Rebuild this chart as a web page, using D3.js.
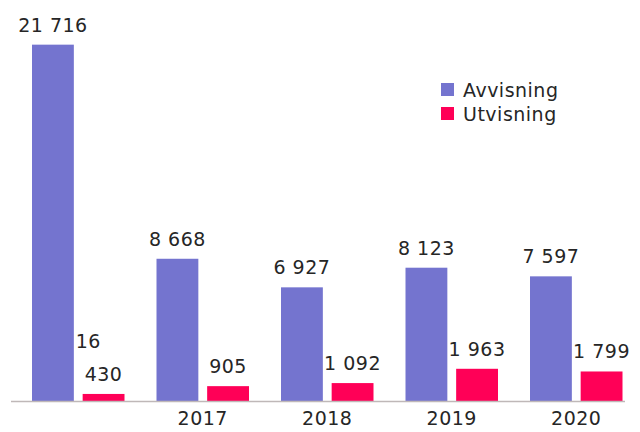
<!DOCTYPE html>
<html>
<head>
<meta charset="utf-8">
<script src="https://cdn.jsdelivr.net/npm/d3@7"></script>
<style>
  body { margin: 0; background: #fff; }
  text { font-family: "DejaVu Sans", Verdana, sans-serif; fill: #262626; letter-spacing: 0.5px; }
</style>
</head>
<body>
<svg id="chart" width="640" height="432"></svg>
<script>
// data
var aar = ["2016", "2017", "2018", "2019", "2020"];
var tickLabels = ["", "2017", "2018", "2019", "2020"];
var avvisning = [21716, 8668, 6927, 8123, 7597];
var utvisning = [430, 905, 1092, 1963, 1799];
var serier = ["Avvisning", "Utvisning"];
var farger = ["#7474cf", "#ff0057"];

var svg = d3.select("#chart");
var fontSize = 19;

var x = d3.scaleBand()
    .domain(aar)
    .range([16, 638.5])
    .paddingInner(0.257)
    .paddingOuter(0.1285);

var xs = d3.scaleBand()
    .domain(serier)
    .range([0, x.bandwidth()])
    .paddingInner(0.174);

var y = d3.scaleLinear()
    .domain([0, 22000])
    .range([401, 40]);

var farge = d3.scaleOrdinal().domain(serier).range(farger);

function fmt(v) {
    return d3.format(",")(v).replace(/,/g, " ");
}

var rader = aar.map(function (a, i) {
    return { aar: a, verdier: [
        { serie: "Avvisning", v: avvisning[i] },
        { serie: "Utvisning", v: utvisning[i] }
    ] };
});

var grupper = svg.selectAll("g.gruppe")
    .data(rader)
    .enter()
    .append("g")
    .attr("class", "gruppe")
    .attr("transform", function (d) { return "translate(" + x(d.aar) + ",0)"; });

grupper.selectAll("rect")
    .data(function (d) { return d.verdier; })
    .enter()
    .append("rect")
    .attr("x", function (d) { return xs(d.serie); })
    .attr("y", function (d) { return y(d.v); })
    .attr("width", xs.bandwidth())
    .attr("height", function (d) { return y(0) - y(d.v); })
    .attr("fill", function (d) { return farge(d.serie); });

grupper.selectAll("text.verdi")
    .data(function (d) { return d.verdier; })
    .enter()
    .append("text")
    .attr("class", "verdi")
    .attr("x", function (d) { return xs(d.serie) + xs.bandwidth() / 2; })
    .attr("y", function (d) { return y(d.v) - 13; })
    .attr("text-anchor", "middle")
    .style("font-size", fontSize + "px")
    .text(function (d) { return fmt(d.v); });

// stray "16" fragment over the first Utvisning label
svg.append("text")
    .attr("x", x("2016") + xs("Utvisning") - 7)
    .attr("y", 348)
    .style("font-size", fontSize + "px")
    .text("16");

// x axis
var xAxis = d3.axisBottom(x)
    .tickSize(0)
    .tickPadding(11)
    .tickFormat(function (d, i) { return tickLabels[i]; });

var ax = svg.append("g")
    .attr("transform", "translate(0," + y(0) + ")")
    .call(xAxis);
ax.select(".domain").remove();
ax.selectAll("text")
    .style("font-size", fontSize + "px")
    .attr("fill", "#262626")
    .attr("font-family", null);

svg.append("line")
    .attr("x1", 11)
    .attr("x2", 625)
    .attr("y1", y(0) + 0.5)
    .attr("y2", y(0) + 0.5)
    .attr("stroke", "#bfb8b8")
    .attr("stroke-width", 1.5);

// legend
var legend = svg.selectAll("g.legend")
    .data(serier)
    .enter()
    .append("g")
    .attr("class", "legend")
    .attr("transform", function (d, i) { return "translate(441," + (83 + i * 24) + ")"; });

legend.append("rect")
    .attr("width", 13)
    .attr("height", 13)
    .attr("fill", function (d) { return farge(d); });

legend.append("text")
    .attr("x", 22)
    .attr("y", 13.5)
    .style("font-size", fontSize + "px")
    .text(function (d) { return d; });
</script>
</body>
</html>
